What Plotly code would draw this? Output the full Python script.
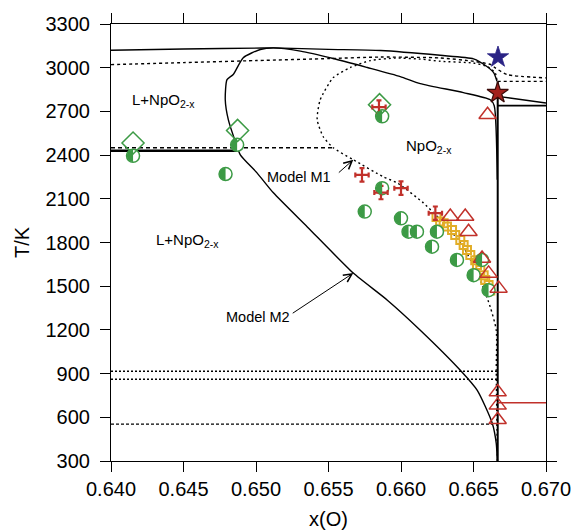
import plotly.graph_objects as go

# ---------------- data (x(O), T/K) ----------------
# Model M2 (solid lines)
m2_liq_x = [0.6400, 0.6450, 0.6505, 0.6512, 0.6550, 0.6586, 0.6627, 0.6650, 0.6659, 0.6664, 0.66662]
m2_liq_T = [3120, 3128, 3135, 3136, 3126, 3118, 3085, 3061, 3010, 2964, 2906]
m2_sol_x = [0.66664, 0.66657, 0.66630, 0.66526, 0.66409, 0.66133, 0.65906, 0.65671, 0.65354,
            0.65120, 0.65007, 0.64892, 0.64857, 0.64809, 0.64788, 0.64800, 0.64843, 0.64912,
            0.65030, 0.65119, 0.65306, 0.65533, 0.65768, 0.65995, 0.66133, 0.66430, 0.66616,
            0.66643, 0.66664]
m2_sol_T = [300, 420, 558, 785, 923, 1198, 1404, 1590, 1907,
            2141, 2278, 2402, 2494, 2643, 2780, 2918, 2953, 3069,
            3125, 3136, 3114, 3063, 3001, 2939, 2891, 2829, 2780,
            2739, 2230]
m2_eut_x = [0.6400, 0.6487]
m2_eut_T = [2430, 2430]

# Model M1 (dashed / dotted lines)
m1_liq_x = [0.6400, 0.6450, 0.6500, 0.6551, 0.6586, 0.6627, 0.6650, 0.6662, 0.6665, 0.6673, 0.6700]
m1_liq_T = [3021, 3035, 3049, 3063, 3073, 3067, 3044, 3021, 2999, 2953, 2930]
m1_sol_x = [0.66665, 0.66657, 0.66657, 0.66616, 0.66547, 0.66430, 0.66319, 0.66154, 0.65974,
            0.65878, 0.65671, 0.65533, 0.65464, 0.65422, 0.65443, 0.65533, 0.65650, 0.65788,
            0.65961, 0.66133, 0.66271, 0.66499, 0.66595, 0.66650, 0.66662]
m1_sol_T = [300, 923, 1198, 1356, 1542, 1769, 1907, 2072, 2209,
            2251, 2368, 2450, 2526, 2643, 2780, 2932, 3001, 3049,
            3066, 3059, 3044, 3032, 3008, 2964, 2906]
m1_eut_x = [0.6400, 0.65533]
m1_eut_T = [2450, 2450]

low_dot_T = [916, 861]
low_dash_T = [553]
low_dash_end = 0.6663
stoich_x = 0.66667

right_dash_T = [2906, 2906]
right_sol1_T = [2803, 2758]
right_sol2_T = [2739, 2739]
right_red_T = [700, 700]

# experimental points
green_circ_x = [0.64152, 0.6479, 0.6487, 0.6587, 0.6587, 0.6575, 0.6600, 0.66052, 0.66110,
                0.66248, 0.66214, 0.66386, 0.66559, 0.66501, 0.66604]
green_circ_T = [2395, 2270, 2471, 2666, 2173, 2012, 1966, 1874, 1874,
                1874, 1771, 1680, 1680, 1576, 1473]
green_dia_x = [0.64152, 0.64873, 0.65852]
green_dia_T = [2483, 2569, 2746]
red_cross_x = [0.65731, 0.65862, 0.66000, 0.65848, 0.66237]
red_cross_T = [2264, 2143, 2173, 2730, 2001]
red_tri_x = [0.66597, 0.66340, 0.66443, 0.66466, 0.66559, 0.66604, 0.66673, 0.66667, 0.66667, 0.66667]
red_tri_T = [2677, 1978, 1978, 1874, 1691, 1588, 1485, 773, 682, 583]
sq_x = [0.66245, 0.66270, 0.66294, 0.66317, 0.66352, 0.66374, 0.66409, 0.66432, 0.66455,
        0.66478, 0.66512, 0.66524, 0.66547, 0.66570, 0.66581, 0.66604, 0.66616]
sq_T = [1975, 1945, 1932, 1909, 1886, 1851, 1817, 1783, 1748,
        1714, 1679, 1645, 1611, 1576, 1542, 1508, 1470]
blue_star = (0.66669, 3072)
red_star = (0.66667, 2827)

x_ticks = [0.640, 0.645, 0.650, 0.655, 0.660, 0.665, 0.670]
y_ticks = [300, 600, 900, 1200, 1500, 1800, 2100, 2400, 2700, 3000, 3300]

# ---------------- styles ----------------
GREEN = "#3c9a45"
RED = "#c1312b"
GOLD = "#e2ad27"
FONT = "Liberation Sans, Arial, sans-serif"

fig = go.Figure()


def line(x, y, dash="solid", width=1.4, color="black", shape="linear"):
    fig.add_trace(go.Scatter(x=x, y=y, mode="lines", showlegend=False, hoverinfo="skip",
                             line=dict(color=color, width=width, dash=dash, shape=shape,
                                       smoothing=0.6)))


line(m2_liq_x, m2_liq_T, shape="spline")
line(m2_sol_x, m2_sol_T, shape="spline")
line(m2_eut_x, m2_eut_T, width=2.4)
line(m1_liq_x, m1_liq_T, dash="3px,3px", shape="spline")
line(m1_sol_x, m1_sol_T, dash="2px,3px", shape="spline")
line(m1_eut_x, m1_eut_T, dash="4px,3px")
for t in low_dot_T:
    line([0.640, stoich_x], [t, t], dash="2px,2px", width=1.6)
for t in low_dash_T:
    line([0.640, low_dash_end], [t, t], dash="3px,2px", width=1.1)
line([stoich_x, stoich_x], [300, 2906], width=2)
line([stoich_x, 0.670], right_dash_T, dash="3px,3px")
line([stoich_x, 0.670], right_sol1_T)
line([stoich_x, 0.670], right_sol2_T, width=1.8)
line([stoich_x, 0.670], right_red_T, color=RED, width=1.6)

# squares
fig.add_trace(go.Scatter(x=sq_x, y=sq_T, mode="markers", showlegend=False,
                         marker=dict(symbol="square-open", size=8, color=GOLD, line=dict(width=2, color=GOLD))))
# green circles (white fill, half filled by shapes)
fig.add_trace(go.Scatter(x=green_circ_x, y=green_circ_T, mode="markers", showlegend=False,
                         marker=dict(symbol="circle", size=13, color="white",
                                     line=dict(width=1.5, color=GREEN))))
# green diamonds
fig.add_trace(go.Scatter(x=green_dia_x, y=green_dia_T, mode="markers", showlegend=False,
                         marker=dict(symbol="diamond-open", size=17, color=GREEN, line=dict(width=1.5))))
# red triangles
fig.add_trace(go.Scatter(x=red_tri_x, y=red_tri_T, mode="markers", showlegend=False,
                         marker=dict(symbol="triangle-up-open", size=15, color=RED, line=dict(width=1.5))))
# red crosses (error-bar style)
fig.add_trace(go.Scatter(x=red_cross_x, y=red_cross_T, mode="markers", showlegend=False,
                         marker=dict(size=2, color=RED),
                         error_x=dict(type="constant", value=0.00046, color=RED, thickness=2.2, width=2.5),
                         error_y=dict(type="constant", value=46, color=RED, thickness=2.2, width=2.5)))
# stars
fig.add_trace(go.Scatter(x=[blue_star[0]], y=[blue_star[1]], mode="markers", showlegend=False,
                         marker=dict(symbol="star", size=16, color="#2a2385", line=dict(width=0.8, color="#2a2385"))))
fig.add_trace(go.Scatter(x=[red_star[0]], y=[red_star[1]], mode="markers", showlegend=False,
                         marker=dict(symbol="star", size=16, color="#a3201c", line=dict(width=1.2, color="#3a0a08"))))

# half-filled left halves of the green circles
r = 6.2
k = 0.5523 * r
half = (f"M 0,{-r} C {-k},{-r} {-r},{-k} {-r},0 C {-r},{k} {-k},{r} 0,{r} Z")
shapes = []
for gx, gt in zip(green_circ_x, green_circ_T):
    shapes.append(dict(type="path", xref="x", yref="y", xsizemode="pixel", ysizemode="pixel",
                       xanchor=gx, yanchor=gt, path=half, fillcolor=GREEN,
                       line=dict(width=0), layer="above"))

ann = []
def text(x, y, s, size=15):
    ann.append(dict(x=x, y=y, xref="x", yref="y", text=s, showarrow=False,
                    font=dict(family=FONT, size=size, color="black")))

text(0.64361, 2774, "L+NpO<sub>2-x</sub>")
text(0.64527, 1817, "L+NpO<sub>2-x</sub>")
text(0.66195, 2457, "NpO<sub>2-x</sub>")
text(0.65297, 2247, "Model M1", 14.5)
text(0.65012, 1292, "Model M2", 14.5)

for hx, hy, tx, ty in [(0.65671, 2368, 0.65561, 2271), (0.65671, 1590, 0.65243, 1308)]:
    ann.append(dict(x=hx, y=hy, ax=tx, ay=ty, xref="x", yref="y", axref="x", ayref="y",
                    text="", showarrow=True, arrowhead=5, arrowsize=1.6, arrowwidth=1,
                    arrowcolor="black"))

axis_common = dict(showline=True, linecolor="black", linewidth=1.2, mirror="ticks",
                   ticks="outside", ticklen=10, tickwidth=1.2, tickcolor="black",
                   showgrid=False, zeroline=False, automargin=False,
                   tickfont=dict(family=FONT, size=20, color="black"))

fig.update_layout(
    width=582, height=530,
    margin=dict(l=111, r=36, t=24, b=69),
    paper_bgcolor="white", plot_bgcolor="white",
    shapes=shapes, annotations=ann,
    xaxis=dict(range=[0.640, 0.670], tickvals=x_ticks,
               ticktext=[f"{v:.3f}" for v in x_ticks],
               title=dict(text="x(O)", font=dict(family=FONT, size=20, color="black"), standoff=20),
               **axis_common),
    yaxis=dict(range=[300, 3300], tickvals=y_ticks,
               ticktext=[str(v) for v in y_ticks],
               title=dict(text="T/K", font=dict(family=FONT, size=20, color="black"), standoff=10),
               ticklabelstandoff=6,
               **axis_common),
)

fig.write_html("out.html")
